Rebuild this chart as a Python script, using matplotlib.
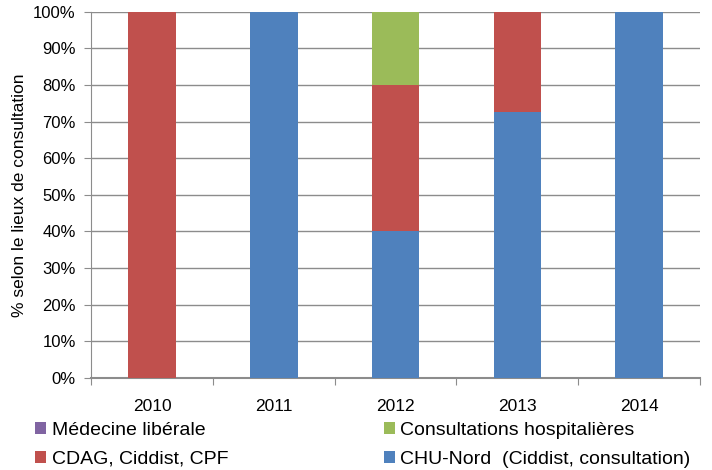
import numpy as np
import matplotlib
matplotlib.use("Agg")
import matplotlib.pyplot as plt
from matplotlib.ticker import FixedLocator, PercentFormatter

plt.rcParams["font.family"] = ["Liberation Sans", "DejaVu Sans"]

years = ["2010", "2011", "2012", "2013", "2014"]
chu_nord = [0, 100, 40, 72.7, 100]
cdag = [100, 0, 40, 27.3, 0]
hospit = [0, 0, 20, 0, 0]
liberale = [0, 0, 0, 0, 0]

c_blue, c_red, c_green, c_purple = "#4f81bd", "#c0504d", "#9bbb59", "#8064a2"

fig = plt.figure(figsize=(7.12, 4.70), dpi=100)
ax = fig.add_axes([0.128, 0.196, 0.855, 0.779])

x = np.arange(len(years))
w = 0.39
b1 = ax.bar(x, chu_nord, w, color=c_blue, zorder=3)
b2 = ax.bar(x, cdag, w, bottom=chu_nord, color=c_red, zorder=3)
bot3 = np.array(chu_nord) + np.array(cdag)
b3 = ax.bar(x, hospit, w, bottom=bot3, color=c_green, zorder=3)
b4 = ax.bar(x, liberale, w, bottom=bot3 + np.array(hospit), color=c_purple, zorder=3)

ax.set_xlim(-0.5, len(years) - 0.5)
ax.set_ylim(0, 100)
ax.yaxis.set_major_locator(FixedLocator(np.arange(0, 101, 10)))
ax.yaxis.set_major_formatter(PercentFormatter(decimals=0))
ax.grid(axis="y", color="#8c8c8c", lw=1, zorder=0)

ax.set_xticks(np.arange(-0.5, len(years), 1))
ax.set_xticklabels([])
ax.set_xticks(x, minor=True)
ax.set_xticklabels(years, minor=True, fontsize=12.5)
ax.tick_params(axis="x", which="major", length=5, color="#8c8c8c")
ax.tick_params(axis="x", which="minor", length=0, pad=15)
ax.tick_params(axis="y", length=5, color="#8c8c8c", labelsize=12, pad=6)

for s in ["top", "right"]:
    ax.spines[s].set_visible(False)
ax.spines["left"].set_color("#8c8c8c")
ax.spines["bottom"].set_color("#8c8c8c")
ax.spines["bottom"].set_linewidth(1.5)

ax.set_ylabel("% selon le lieux de consultation", fontsize=12.5)
ax.yaxis.set_label_coords(-0.105, 0.5)

handles = [b4, b2, b3, b1]
labels = ["Médecine libérale", "CDAG, Ciddist, CPF",
          "Consultations hospitalières", "CHU-Nord  (Ciddist, consultation)"]
fig.legend(handles, labels, ncol=2, loc="lower left", bbox_to_anchor=(0.025, -0.032),
           frameon=False, fontsize=14, handlelength=0.55, handleheight=0.55,
           handletextpad=0.3, columnspacing=8.0, labelspacing=0.6)

fig.savefig("out.png", dpi=100)
